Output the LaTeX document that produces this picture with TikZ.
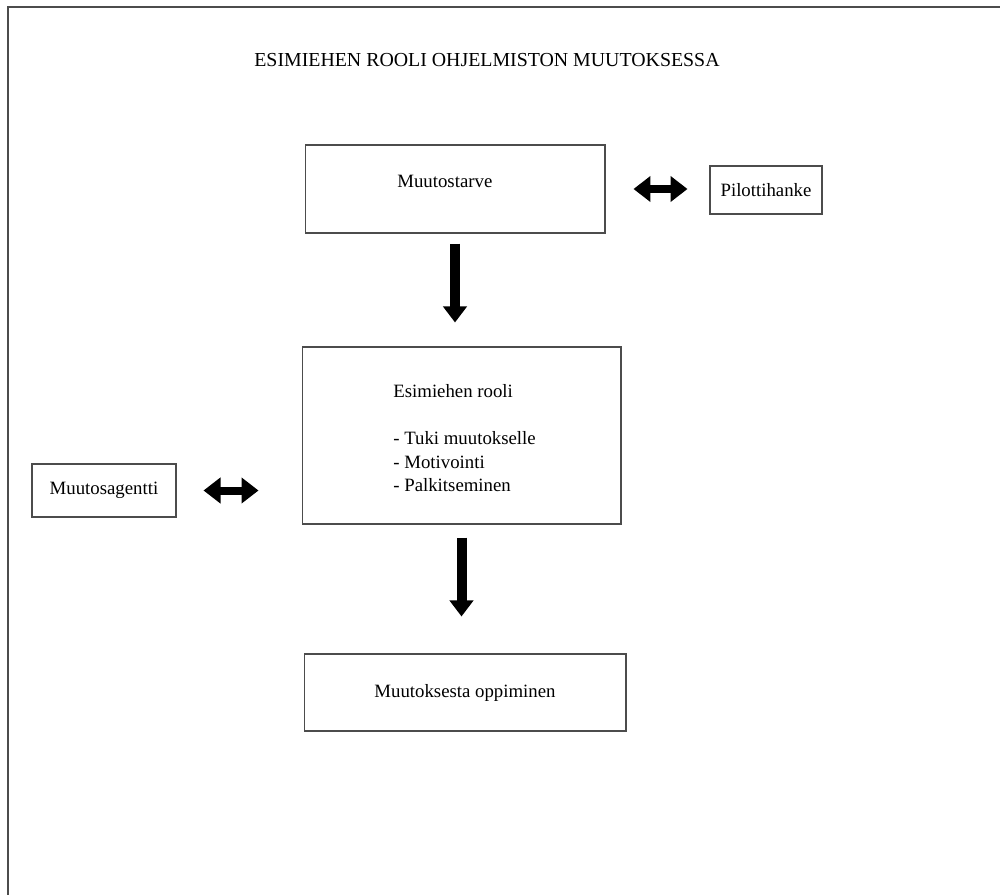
\documentclass[tikz,border=0pt]{standalone}
\usepackage{fontspec}
\setmainfont{Liberation Serif}
\usetikzlibrary{arrows.meta,positioning,calc}
\definecolor{boxgray}{gray}{0.3}
\tikzset{
  box/.style={
    draw = boxgray,
    line width = 0.6pt,
    inner sep = 0pt,
    shape = rectangle,
    font = \fontsize{10.7}{13.4}\selectfont
  },
  txt/.style={
    font = \fontsize{10.7}{13.4}\selectfont,
    inner sep = 0pt,
    align = left
  },
  headline/.style={
    font = \fontsize{11.3}{13.6}\selectfont,
    inner sep = 0pt
  },
  fat/.style={
    line width = 0.2cm,
    -{Triangle[width=0.46cm,length=0.32cm]}
  },
  fatboth/.style={
    line width = 0.16cm,
    {Triangle[width=0.5cm,length=0.34cm]}-{Triangle[width=0.5cm,length=0.34cm]}
  }
}

\begin{document}
\begin{tikzpicture}[x=0.02cm,y=-0.02cm]
    \useasboundingbox (0,0) rectangle (1000,895);
    % page frame (left and top edge only)
    \draw[boxgray, line width=0.8pt] (8,895) -- (8,7) -- (1000,7);
    \node[headline] (head) at (487,60) {ESIMIEHEN ROOLI OHJELMISTON MUUTOKSESSA};
    % boxes
    \node[box, minimum width=6cm, minimum height=1.76cm] (need) at (455,189) {};
    \node[txt, anchor=west] (needtext) at (397,181) {Muutostarve};
    \node[box, minimum width=2.24cm, minimum height=0.96cm] (pilot) at (766,190) {Pilottihanke};
    \node[box, minimum width=6.38cm, minimum height=3.54cm] (role) at (461.5,435.5) {};
    \node[txt, anchor=north west] (roletext) at (393,384)
      {Esimiehen rooli\\[13.4pt]- Tuki muutokselle\\- Motivointi\\- Palkitseminen};
    \node[box, minimum width=2.88cm, minimum height=1.06cm] (agent) at (104,490.5) {Muutosagentti};
    \node[box, minimum width=6.44cm, minimum height=1.54cm] (learn) at (465,692.5) {Muutoksesta oppiminen};
    % arrows
    \draw[fat, shorten <=0.2cm, shorten >=0.48cm] (need.south) -- (need.south |- role.north);
    \draw[fat, shorten <=0.26cm, shorten >=0.74cm] (role.south) -- (role.south |- learn.north);
    \draw[fatboth, shorten <=0.56cm, shorten >=0.44cm] (need.east) -- (need.east -| pilot.west);
    \draw[fatboth, shorten <=0.54cm, shorten >=0.86cm] (agent.east) -- (agent.east -| role.west);
\end{tikzpicture}
\end{document}
